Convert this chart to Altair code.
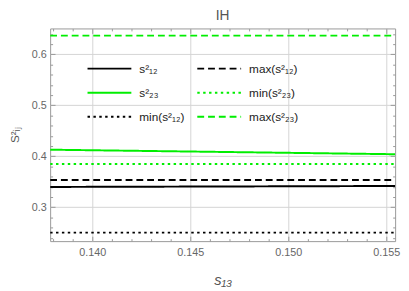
import altair as alt
import pandas as pd

# ---- data ----
s13_pts = [0.13785, 0.1466, 0.15545]
s12_sq = [0.3396, 0.3405, 0.3415]
s23_sq = [0.4127, 0.4083, 0.4038]
s13_ends = [0.13785, 0.15545]
min_s12_sq = 0.250
max_s12_sq = 0.3533
min_s23_sq = 0.3846
max_s23_sq = 0.6365

series_order = ["s²₁₂", "s²₂₃", "min(s²₁₂)", "max(s²₁₂)", "min(s²₂₃)", "max(s²₂₃)"]
series_colors = ["#000000", "#00ee00", "#000000", "#000000", "#00ee00", "#00ee00"]
series_dash = [[1, 0], [1, 0], [2.5, 3.5], [7, 4], [2.5, 3.5], [7, 4]]

x_major = [0.140, 0.145, 0.150, 0.155]
x_minor = [0.138, 0.139, 0.141, 0.142, 0.143, 0.144, 0.146, 0.147, 0.148, 0.149,
           0.151, 0.152, 0.153, 0.154]
y_major = [0.3, 0.4, 0.5, 0.6]
y_minor = [0.24, 0.26, 0.28, 0.32, 0.34, 0.36, 0.38, 0.42, 0.44, 0.46, 0.48,
           0.52, 0.54, 0.56, 0.58, 0.62, 0.64]

rows = []
for x, v in zip(s13_pts, s12_sq):
    rows.append({"s13": x, "val": v, "series": "s²₁₂"})
for x, v in zip(s13_pts, s23_sq):
    rows.append({"s13": x, "val": v, "series": "s²₂₃"})
for name, v in [("max(s²₁₂)", max_s12_sq), ("min(s²₂₃)", min_s23_sq),
                ("min(s²₁₂)", min_s12_sq), ("max(s²₂₃)", max_s23_sq)]:
    for x in s13_ends:
        rows.append({"s13": x, "val": v, "series": name})
df = pd.DataFrame(rows)

W, H = 352, 217
FONT = "Liberation Sans"
FRAME = "#999999"
TICK = "#999999"
xs = alt.Scale(domain=[0.13785, 0.15545], nice=False, zero=False)
ys = alt.Scale(domain=[0.2333, 0.6506], nice=False, zero=False)

legend = alt.Legend(
    title=None, orient="none", legendX=37, legendY=33, columns=2,
    symbolType="stroke", symbolSize=2000, symbolStrokeWidth=2,
    labelFontSize=12, labelFont=FONT, labelColor="#222222",
    labelOffset=7, columnPadding=11, rowPadding=8.5, clipHeight=16,
)

base = alt.Chart(df)

lines = base.mark_line(strokeWidth=2, clip=True).encode(
    x=alt.X("s13:Q", scale=xs, axis=alt.Axis(
        orient="bottom", values=x_major, format=".3f", ticks=False, domain=False,
        grid=True, gridColor="#d4d4d4", labelFont=FONT, labelFontSize=11,
        labelColor="#666666", labelPadding=6, title="s₁₃", titleFont=FONT,
        titleFontSize=15, titleFontStyle="italic", titleFontWeight="normal",
        titleColor="#555555", titlePadding=15)),
    y=alt.Y("val:Q", scale=ys, axis=alt.Axis(
        orient="left", values=y_major, format=".1f", ticks=False, domain=False,
        grid=True, gridColor="#d4d4d4", labelFont=FONT, labelFontSize=11,
        labelColor="#666666", labelPadding=4, title="S²ᵢⱼ", titleFont=FONT,
        titleFontSize=12, titleFontWeight="normal", titleColor="#555555",
        titlePadding=10)),
    color=alt.Color("series:N", sort=series_order,
                    scale=alt.Scale(domain=series_order, range=series_colors),
                    legend=legend),
    strokeDash=alt.StrokeDash("series:N", sort=series_order,
                              scale=alt.Scale(domain=series_order, range=series_dash),
                              legend=legend),
)


def tick_layer(xorient, xoff, yorient, yoff, xvals, yvals, size):
    return base.mark_line(opacity=0).encode(
        x=alt.X("s13:Q", scale=xs, axis=alt.Axis(
            orient=xorient, offset=xoff, values=xvals, tickSize=size,
            tickColor=TICK, labels=False, domain=False, grid=False, title=None)),
        y=alt.Y("val:Q", scale=ys, axis=alt.Axis(
            orient=yorient, offset=yoff, values=yvals, tickSize=size,
            tickColor=TICK, labels=False, domain=False, grid=False, title=None)),
        detail="series:N",
    )


t1 = tick_layer("top", -H, "right", -W, x_major, y_major, 5)
t2 = tick_layer("bottom", -H, "left", -W, x_major, y_major, 5)
t3 = tick_layer("top", -H, "right", -W, x_minor, y_minor, 2.5)
t4 = tick_layer("bottom", -H, "left", -W, x_minor, y_minor, 2.5)

chart = alt.layer(lines, t1, t2, t3, t4).resolve_axis(
    x="independent", y="independent"
).properties(
    width=W, height=H,
    title=alt.TitleParams("IH", font=FONT, fontSize=14, fontWeight="normal",
                          color="#555555", anchor="middle", offset=5),
    autosize=alt.AutoSizeParams(type="none"),
    padding={"left": 43, "top": 18, "right": 6, "bottom": 47},
).configure_view(stroke=FRAME, strokeWidth=1)

chart.save("out.html", embed_options={"renderer": "svg", "actions": False})
